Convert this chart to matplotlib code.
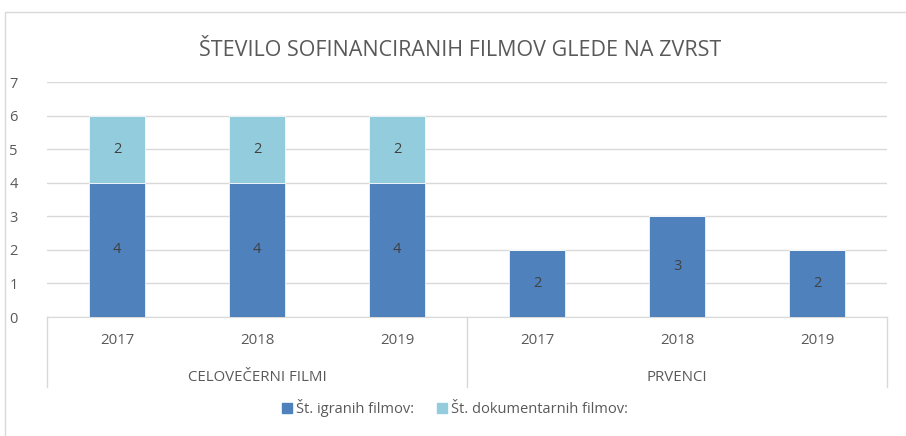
import matplotlib.pyplot as plt
import matplotlib.transforms as mtransforms
from matplotlib.patches import Rectangle, Patch

plt.rcParams['font.family'] = ['Open Sans', 'DejaVu Sans']

# data
years = ['2017', '2018', '2019', '2017', '2018', '2019']
groups = ['CELOVEČERNI FILMI', 'PRVENCI']
igrani = [4, 4, 4, 2, 3, 2]
dokumentarni = [2, 2, 2, 0, 0, 0]
series_names = ['Št. igranih filmov:', 'Št. dokumentarnih filmov:']

c_dark = '#4F81BD'
c_light = '#93CDDD'
txt = '#595959'
grid = '#D9D9D9'

W, H = 906, 436
fig = plt.figure(figsize=(W / 100, H / 100), dpi=100)

# outer chart border
fig.patches.append(Rectangle((5 / W, -0.1), 1.2, (H - 12) / H + 0.1, transform=fig.transFigure,
                             fill=False, edgecolor=grid, lw=1))

ax = fig.add_axes([47 / W, (H - 317) / H, 840 / W, 235 / H])
x = list(range(len(years)))
b1 = ax.bar(x, igrani, width=0.4, color=c_dark, edgecolor='white', linewidth=0.5, zorder=3)
b2 = ax.bar(x, dokumentarni, width=0.4, bottom=igrani, color=c_light, edgecolor='white',
            linewidth=0.5, zorder=3)

for i in x:
    if igrani[i]:
        ax.text(i, igrani[i] / 2, str(igrani[i]), ha='center', va='center', fontsize=10.5, color='#404040', zorder=4)
    if dokumentarni[i]:
        ax.text(i, igrani[i] + dokumentarni[i] / 2, str(dokumentarni[i]), ha='center', va='center',
                fontsize=10.5, color='#404040', zorder=4)

ax.set_xlim(-0.5, 5.5)
ax.set_ylim(0, 7)
ax.set_yticks(range(8))
ax.tick_params(axis='y', length=0, pad=21, labelsize=10.5, labelcolor=txt)
ax.set_xticks([])
ax.grid(axis='y', color=grid, lw=1, zorder=0)
for s in ['top', 'right', 'left']:
    ax.spines[s].set_visible(False)
ax.spines['bottom'].set_color(grid)

# multi-level category axis
tr = mtransforms.blended_transform_factory(ax.transData, ax.transAxes)
for xs in [-0.5, 2.5, 5.5]:
    ax.plot([xs, xs], [0, -70 / 235], transform=tr, color=grid, lw=1, clip_on=False)
for i, y in enumerate(years):
    ax.text(i, -23 / 235, y, transform=tr, ha='center', va='center', fontsize=10.8, color=txt)
for g, cx in zip(groups, [1, 4]):
    ax.text(cx, -60 / 235, g, transform=tr, ha='center', va='center', fontsize=10.8, color=txt)

fig.text(460 / W, 1 - 50 / H, 'ŠTEVILO SOFINANCIRANIH FILMOV GLEDE NA ZVRST', ha='center', va='center',
         fontsize=15.5, color=txt)

handles = [Patch(color=c_dark), Patch(color=c_light)]
fig.legend(handles, series_names, loc='center', bbox_to_anchor=(455 / W, 1 - 408 / H), ncol=2,
           frameon=False, fontsize=10.5, labelcolor=txt, handlelength=0.7, handleheight=0.7,
           handletextpad=0.3, columnspacing=1.5)

fig.savefig('out.png', dpi=100)
